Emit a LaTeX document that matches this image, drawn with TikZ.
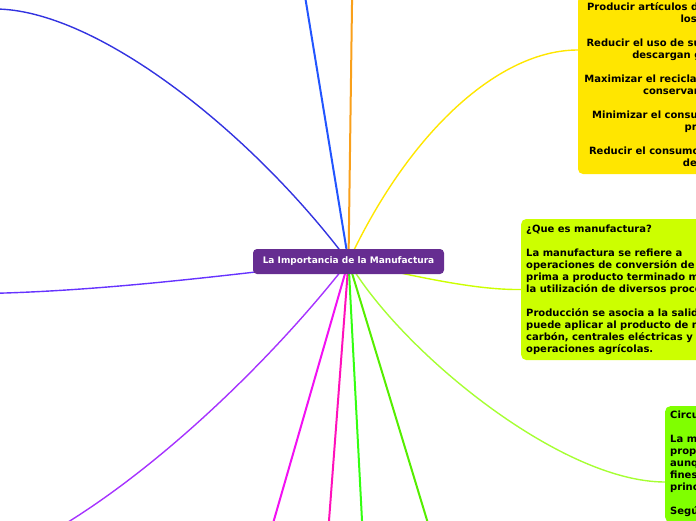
\documentclass[tikz,border=0pt]{standalone}
\usepackage{fontspec}
\setmainfont{DejaVu Sans}
\usetikzlibrary{backgrounds}
\definecolor{rootpurple}{HTML}{662D91}
\definecolor{topblue}{HTML}{2255FF}
\definecolor{toporange}{HTML}{F9A01B}
\definecolor{arcindigo}{HTML}{3333E0}
\definecolor{leftviolet}{HTML}{6633FF}
\definecolor{lowviolet}{HTML}{A633FF}
\definecolor{magone}{HTML}{F211F2}
\definecolor{magtwo}{HTML}{FF11BB}
\definecolor{greenone}{HTML}{33FF11}
\definecolor{greentwo}{HTML}{55EE00}
\definecolor{chartline}{HTML}{A6FF33}
\definecolor{chartfill}{HTML}{80FF00}
\definecolor{limefill}{HTML}{CCFF00}
\definecolor{yellowfill}{HTML}{FFE600}
\begin{document}
\begin{tikzpicture}[x=1pt, y=-1pt,
  every node/.style={font=\bfseries\fontsize{10}{12}\selectfont},
  topic/.style={rounded corners=5pt, inner xsep=5pt, inner ysep=4pt, text=black},
  branch/.style={line width=2pt, line cap=round},
  arc/.style={line width=1.4pt, line cap=round}]
\useasboundingbox (0,0) rectangle (696,520);
\clip (0,0) rectangle (696,520);

% central topic and the three boxes
\node[fill=rootpurple, text=white, rounded corners=4pt, inner sep=0pt, minimum width=191, minimum height=25,
  font=\bfseries\fontsize{9}{11}\selectfont] (root) at (348.5,261.5) {La Importancia de la Manufactura};
\node[topic, fill=yellowfill, align=center, minimum width=246, minimum height=178] (goals) at (701,85)
  {Producir artículos de consumo sin dañar\\
   los ríos\\[12pt]
   Reducir el uso de sustancias tóxicas que\\
   descargan gases al aire.\\[12pt]
   Maximizar el reciclaje de los materiales y\\
   conservar la energía\\[12pt]
   Minimizar el consumo total de materia\\
   prima\\[12pt]
   Reducir el consumo y la contaminación,\\
   del río};
\node[topic, fill=limefill, align=left, anchor=west, minimum height=141] (whatis) at (521,289.5)
  {¿Que es manufactura?\\[12pt]
   La manufactura se refiere a\\
   operaciones de conversión de materia\\
   prima a producto terminado mediante\\
   la utilización de diversos procesos.\\[12pt]
   Producción se asocia a la salida de una\\
   puede aplicar al producto de minas de\\
   carbón, centrales eléctricas y aun a\\
   operaciones agrícolas.};
\node[topic, fill=chartfill, align=left, anchor=north west, minimum height=116] (circ) at (665,406)
  {Circuito de la manufactura\\[12pt]
   La manufactura\\
   propiamente dicha\\
   aunque\\
   fines\\
   principalmente\\[12pt]
   Según};

% free ends of the branches
\coordinate (tipblue) at (304,-10);
\coordinate (tiporange) at (352.2,-10);
\coordinate (tipindigo) at (-5,9);
\coordinate (tipleft) at (-5,293.3);
\coordinate (tiplow) at (55,530);
\coordinate (tipmagone) at (271.1,530);
\coordinate (tipmagtwo) at (328.3,530);
\coordinate (tipgreenone) at (362.5,530);
\coordinate (tipgreentwo) at (430,530);
\coordinate (goalsin) at (goals.west |- 0,50);
\coordinate (circin) at (circ.west |- 0,482);

\begin{scope}[on background layer]
\draw[branch, topblue] (root.center) -- (tipblue);
\draw[branch, toporange] (root.center) -- (tiporange);
\draw[arc, arcindigo] (root.center) .. controls (250,130) and (95,9) .. (tipindigo);
\draw[arc, leftviolet] (root.center) .. controls (250,272) and (120,290) .. (tipleft);
\draw[arc, lowviolet] (root.center) .. controls (280,350) and (165,465) .. (tiplow);
\draw[branch, magone] (root.center) -- (tipmagone);
\draw[branch, magtwo] (root.center) -- (tipmagtwo);
\draw[branch, greenone] (root.center) -- (tipgreenone);
\draw[branch, greentwo] (root.center) -- (tipgreentwo);
\draw[arc, chartline] (root.center) .. controls (400,350) and (560,482) .. (circin);
\draw[arc, limefill] (root.center) .. controls (430,280) and (480,290) .. (whatis.west);
\draw[arc, yellowfill] (root.center) .. controls (410,130) and (500,50) .. (goalsin);
\end{scope}
\end{tikzpicture}
\end{document}
